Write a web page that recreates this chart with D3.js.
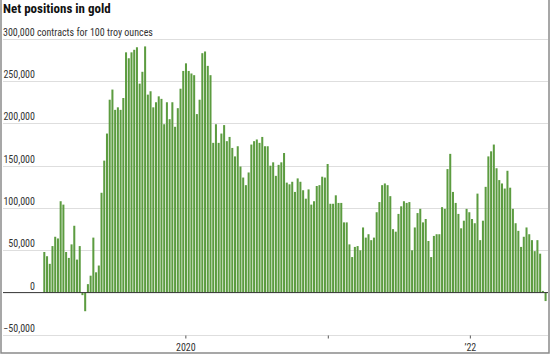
<!DOCTYPE html>
<html>
<head>
<meta charset="utf-8">
<script src="https://cdn.jsdelivr.net/npm/d3@7"></script>
<style>
  html, body { margin: 0; padding: 0; background: #fff; }
  svg { display: block; }
  text { font-family: 'Liberation Sans Narrow', 'Roboto Condensed', 'Open Sans', sans-serif; }
</style>
</head>
<body>
<svg id="chart" width="550" height="354"></svg>
<script>
// ---- data (net positions, thousands of contracts), weekly from 2019-01-01 ----
const startDate = new Date(2019, 0, 1);
const netPositions = [
  48, 43, 34, 55, 66, 64, 108, 104, 48, 41, 57, 79, 39, 55, -3, -22, 10, 20, 65, 24,
  32, 118, 156, 188, 228, 240, 216, 219, 216, 230, 284, 277, 284, 287, 290, 247, 261, 291, 234, 238,
  219, 225, 232, 229, 199, 225, 205, 225, 196, 218, 241, 262, 271, 262, 259, 257, 211, 228, 283, 285,
  268, 257, 177, 199, 177, 188, 198, 179, 184, 171, 161, 173, 149, 136, 127, 142, 175, 179, 181, 177,
  184, 173, 173, 150, 154, 138, 151, 154, 165, 130, 128, 131, 119, 135, 131, 121, 111, 122, 104, 108,
  126, 127, 137, 136, 152, 105, 105, 115, 106, 106, 83, 83, 57, 42, 54, 55, 50, 77, 65, 69,
  62, 65, 95, 107, 127, 129, 127, 114, 75, 72, 93, 102, 108, 106, 107, 50, 77, 94, 99, 83,
  87, 61, 42, 67, 69, 69, 101, 99, 146, 164, 119, 106, 93, 76, 85, 99, 95, 87, 82, 117,
  62, 85, 125, 161, 167, 175, 147, 133, 129, 123, 144, 124, 99, 82, 73, 54, 66, 77, 69, 62,
  49, 62, 46, 2, -10
];
const weeks = netPositions.map((v, i) => d3.timeWeek.offset(startDate, i));
const yTicks = [-50000, 0, 50000, 100000, 150000, 200000, 250000, 300000];
const xTickDates = [new Date(2020, 0, 1), new Date(2021, 0, 1), new Date(2022, 0, 1)];
const xTickLabels = ["2020", "", "\u201922"];
const title = "Net positions in gold";
const subtitle = "300,000 contracts for 100 troy ounces";

// ---- chart ----
const svg = d3.select("#chart");
const W = 550, H = 354;
svg.append("rect").attr("width", W).attr("height", H).attr("fill", "#fff");

const x = d3.scaleTime()
  .domain([startDate, d3.timeWeek.offset(startDate, netPositions.length)])
  .range([43.3, 547.3]);
const y = d3.scaleLinear().domain([-50000, 300000]).range([334.9, 38.8]);

// gridlines
svg.append("g").selectAll("line").data(yTicks.filter(d => d !== 0)).join("line")
  .attr("x1", 3).attr("x2", 548)
  .attr("y1", d => Math.round(y(d)) + 0.5).attr("y2", d => Math.round(y(d)) + 0.5)
  .attr("stroke", "#dedede").attr("stroke-width", 1);

// y labels
const fmt = d3.format(",");
svg.append("g").selectAll("text").data(yTicks.filter(d => d !== 300000)).join("text")
  .attr("x", 35).attr("y", d => y(d) - 3)
  .attr("text-anchor", "end")
  .attr("font-size", 10).attr("fill", "#333")
  .text(d => fmt(d));

// title & subtitle
svg.append("text").attr("x", 3).attr("y", 13)
  .attr("font-size", 13).attr("font-weight", "bold").attr("fill", "#111")
  .text(title);
svg.append("text").attr("x", 3).attr("y", y(300000) - 3)
  .attr("font-size", 10).attr("fill", "#333")
  .text(subtitle);

// bars
svg.append("g").selectAll("rect").data(netPositions.map((v, i) => ({d: weeks[i], v: v * 1000}))).join("rect")
  .attr("x", d => x(d.d))
  .attr("width", d => x(d3.timeWeek.offset(d.d, 1)) - x(d.d) - 0.7)
  .attr("y", d => y(Math.max(0, d.v)))
  .attr("height", d => Math.abs(y(d.v) - y(0)))
  .attr("fill", "#5c9c40");

// zero baseline
svg.append("line").attr("x1", 3).attr("x2", 548)
  .attr("y1", y(0)).attr("y2", y(0))
  .attr("stroke", "#333").attr("stroke-width", 1);

// x axis
const xAxis = d3.axisBottom(x).tickValues(xTickDates)
  .tickSize(3).tickPadding(5)
  .tickFormat((d, i) => xTickLabels[i]);
const gx = svg.append("g").attr("transform", `translate(0,${Math.round(y(-50000)) + 0.5})`).call(xAxis);
gx.select(".domain").remove();
gx.selectAll(".tick line").attr("stroke", "#555");
gx.selectAll(".tick text").attr("font-size", 10).attr("fill", "#333")
  .attr("font-family", "'Liberation Sans Narrow', 'Roboto Condensed', 'Open Sans', sans-serif");

// frame (left, bottom, right)
svg.append("path").attr("d", `M1,0V${H - 1}H${W - 1}V0`)
  .attr("fill", "none").attr("stroke", "#8a8a8a").attr("stroke-width", 1.5);
</script>
</body>
</html>
